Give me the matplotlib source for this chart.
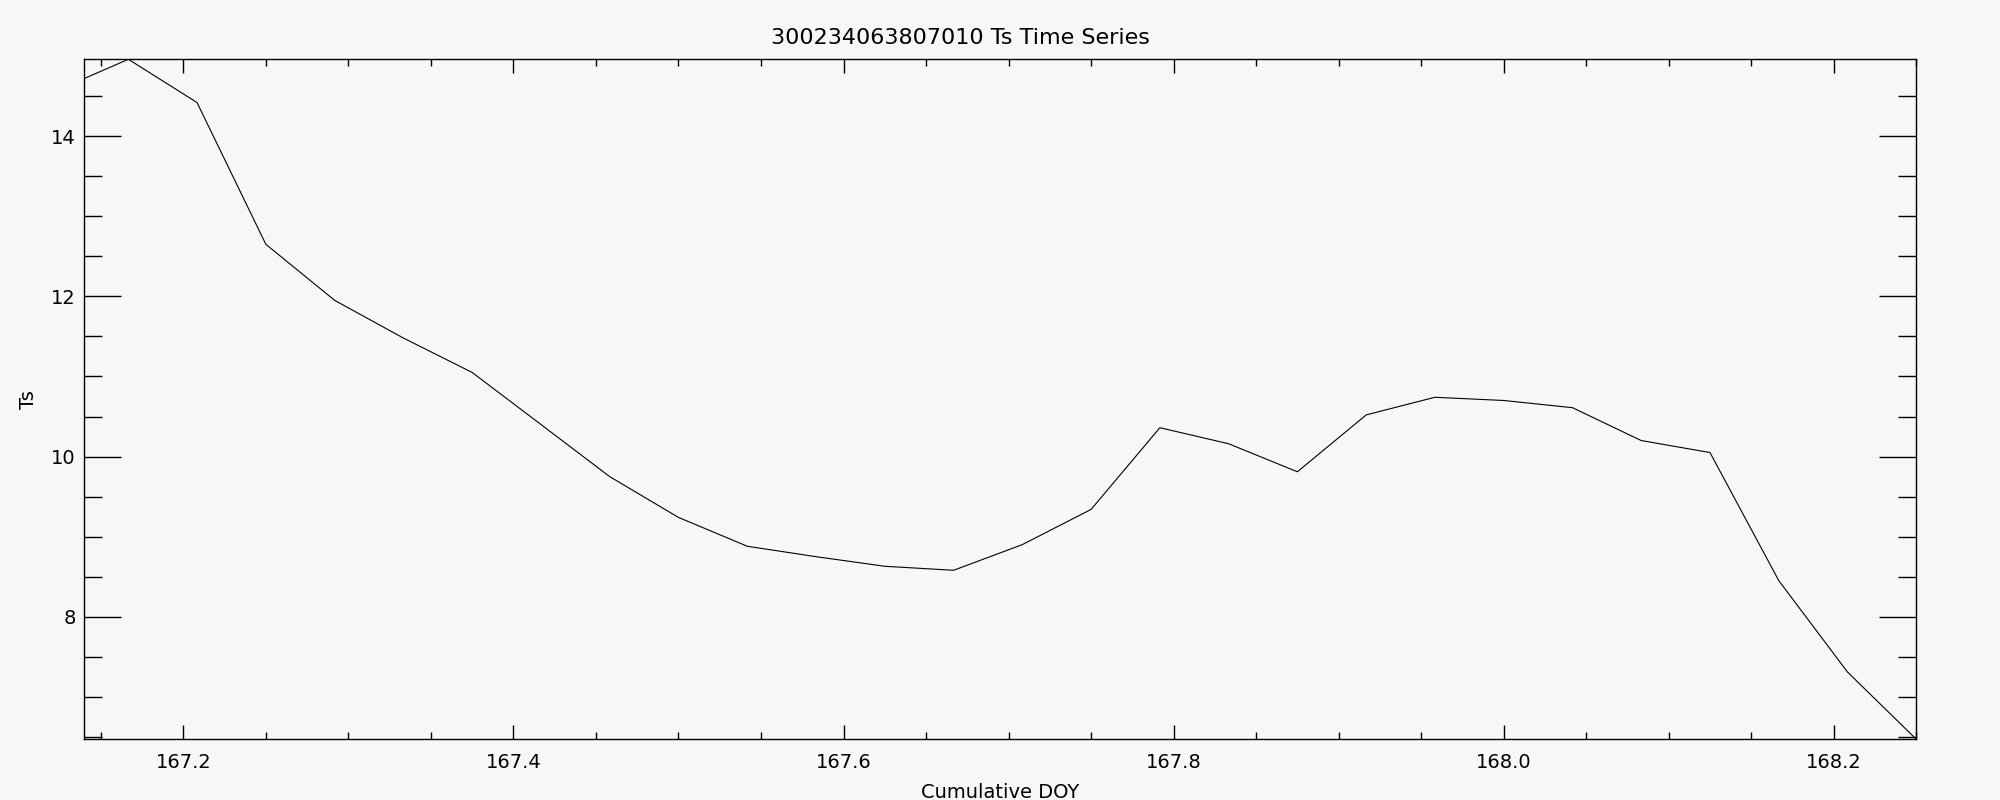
import matplotlib
matplotlib.use('Agg')
import matplotlib.pyplot as plt
from matplotlib.ticker import MultipleLocator, FormatStrFormatter

# values (hourly samples)
doy = [167.140, 167.1667, 167.2083, 167.2500, 167.2917, 167.3333, 167.3750,
       167.4167, 167.4583, 167.5000, 167.5417, 167.5833, 167.6250, 167.6667,
       167.7083, 167.7500, 167.7917, 167.8333, 167.8750, 167.9167, 167.9583,
       168.0000, 168.0417, 168.0833, 168.1250, 168.1667, 168.2083, 168.2500]
ts = [14.72, 14.96, 14.42, 12.65, 11.95, 11.48, 11.05,
      10.40, 9.75, 9.24, 8.88, 8.75, 8.63, 8.58,
      8.90, 9.34, 10.36, 10.16, 9.81, 10.52, 10.74,
      10.70, 10.61, 10.20, 10.05, 8.45, 7.31, 6.47]

title = '300234063807010 Ts Time Series'
xlabel = 'Cumulative DOY'
ylabel = 'Ts'

bg = '#f7f7f7'
plt.rcParams['font.family'] = ['DejaVu Sans']

fig = plt.figure(figsize=(20, 8), dpi=100, facecolor=bg)
ax = fig.add_axes([0.04215, 0.0759, 0.916, 0.85], facecolor=bg)

ax.plot(doy, ts, color='black', linewidth=0.8)

ax.set_xlim(doy[0], doy[-1])
ax.set_ylim(min(ts), max(ts))

ax.xaxis.set_major_locator(MultipleLocator(0.2))
ax.xaxis.set_minor_locator(MultipleLocator(0.05))
ax.xaxis.set_major_formatter(FormatStrFormatter('%.1f'))
ax.yaxis.set_major_locator(MultipleLocator(2))
ax.yaxis.set_minor_locator(MultipleLocator(0.5))

ax.tick_params(axis='both', which='both', direction='in', top=True, right=True,
               color='black', width=1.0, labelsize=14)
ax.tick_params(axis='x', which='major', length=10, pad=10)
ax.tick_params(axis='x', which='minor', length=5)
ax.tick_params(axis='y', which='major', length=26.6, pad=6)
ax.tick_params(axis='y', which='minor', length=13)

for s in ax.spines.values():
    s.set_linewidth(1.0)
    s.set_color('black')

ax.set_xlabel(xlabel, fontsize=14, va='center')
ax.xaxis.set_label_coords(0.5, -0.078)
ax.set_ylabel(ylabel, fontsize=14, va='center')
ax.yaxis.set_label_coords(-0.0307, 0.5)

fig.text(0.4804, 0.952, title, ha='center', va='center', fontsize=16)

fig.savefig('out.png', dpi=100, facecolor=bg)
